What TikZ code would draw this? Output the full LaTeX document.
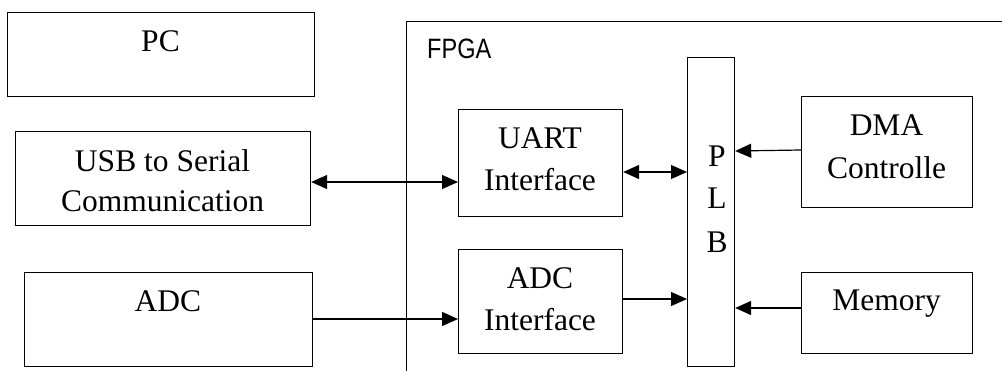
\documentclass[tikz,border=0pt]{standalone}
\usepackage{fontspec}
\setmainfont{Liberation Serif}
\newfontfamily\fpgafont[FakeStretch=0.84]{Liberation Sans}
\usetikzlibrary{arrows.meta,calc}
\begin{document}
\begin{tikzpicture}[x=1pt,y=-1pt,
  box/.style={draw,line width=1.2pt,rectangle,inner sep=0pt,anchor=north west},
  lbl/.style={inner sep=0pt,align=center,font=\fontsize{31.5}{41}\selectfont,anchor=base},
  conn/.style={line width=1.2pt,-{Triangle[length=16pt,width=14pt]}},
  bidir/.style={line width=1.2pt,{Triangle[length=16pt,width=14pt]}-{Triangle[length=16pt,width=14pt]}}]
\fill[white] (0,0) rectangle (1002,370);
\useasboundingbox (0,0) rectangle (1002,370);
% FPGA frame
\node[box,minimum width=700pt,minimum height=420pt] (fpga) at (406,21) {};
\node[inner sep=0pt,anchor=base west,font=\fpgafont\fontsize{28}{30}\selectfont] (fpgat) at (427,58) {FPGA};
% boxes
\node[box,minimum width=307pt,minimum height=84pt] (pc) at (7,12) {};
\node[box,minimum width=295pt,minimum height=94pt] (usb) at (15,131) {};
\node[box,minimum width=288pt,minimum height=94pt] (adc) at (24,272) {};
\node[box,minimum width=164pt,minimum height=107pt] (uart) at (458,109) {};
\node[box,minimum width=164pt,minimum height=104pt] (adcif) at (458,249) {};
\node[box,minimum width=47pt,minimum height=309pt] (plb) at (687,57) {};
\node[box,minimum width=171pt,minimum height=111pt] (dma) at (801,96) {};
\node[box,minimum width=171pt,minimum height=81pt] (mem) at (801,272) {};
% labels
\node[lbl] (pct) at (160.5,51) {PC};
\node[lbl] (usbt1) at (162.5,171) {USB to Serial};
\node[lbl] (usbt2) at (162.5,211) {Communication};
\node[lbl] (adct) at (168,311) {ADC};
\node[lbl] (uartt1) at (540,148) {UART};
\node[lbl] (uartt2) at (540,190) {Interface};
\node[lbl] (adcift1) at (540,288) {ADC};
\node[lbl] (adcift2) at (540,330) {Interface};
\node[lbl] (plbp) at (717,166) {P};
\node[lbl] (plbl) at (717,208) {L};
\node[lbl] (plbb) at (717,252) {B};
\node[lbl] (dmat1) at (886.5,135) {DMA};
\node[lbl] (dmat2) at (886.5,178) {Controlle};
\node[lbl] (memt) at (886.5,310) {Memory};
% connectors
\draw[bidir] (usb.east |- 0,182) -- (uart.west |- 0,182);
\draw[conn] (adc.east |- 0,319) -- (adcif.west |- 0,319);
\draw[bidir] (uart.east |- 0,172) -- (plb.west |- 0,172);
\draw[conn] (adcif.east |- 0,299) -- (plb.west |- 0,299);
\draw[conn] (dma.west |- 0,150) -- (plb.east |- 0,151);
\draw[conn] (mem.west |- 0,308) -- (plb.east |- 0,308);
\end{tikzpicture}
\end{document}
